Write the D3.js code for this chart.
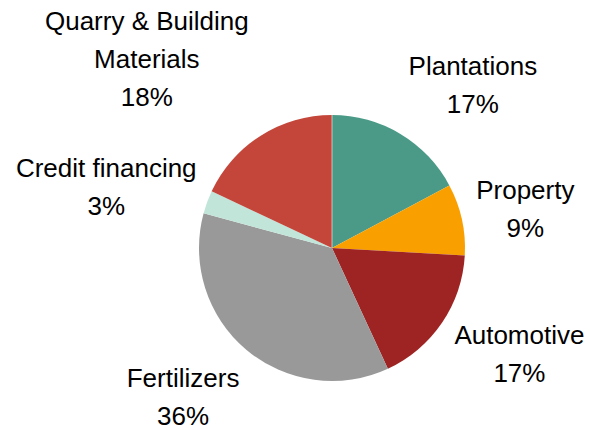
<html>
<head>
<meta charset="utf-8">
<title>Segment pie</title>
<style>
  body { margin: 0; background: #fff; }
  text { font-family: "Liberation Sans", Arial, sans-serif; fill: #000; }
</style>
</head>
<body>
<script src="https://cdn.jsdelivr.net/npm/d3@7"></script>
<script>

// data
var segments = ["Plantations", "Property", "Automotive", "Fertilizers", "Credit financing", "Quarry & Building Materials"];
var shares   = [17.2, 8.7, 17.2, 36.1, 2.8, 18.0];
var labelLines = [["Plantations"], ["Property"], ["Automotive"], ["Fertilizers"], ["Credit financing"], ["Quarry & Building", "Materials"]];
var colors   = ["#4a9a87", "#f9a000", "#9e2424", "#999999", "#c2e5da", "#c4463a"];

var width  = 590;
var height = 430;
var cx = 332, cy = 248, radius = 133;

var svg = d3.select("body")
			.append("svg")
			.attr("width", width)
			.attr("height", height);

var g = svg.append("g")
			.attr("transform", "translate(" + cx + "," + cy + ")");

var pie = d3.pie().sort(null).value(function(d) { return d; });
var arcs = pie(shares);

var arc = d3.arc().innerRadius(0).outerRadius(radius);
var labelArc = d3.arc().innerRadius(200).outerRadius(200);

g.selectAll("path.slice")
	.data(arcs)
	.enter()
	.append("path")
	.attr("class", "slice")
	.attr("d", arc)
	.attr("fill", function(d, i) { return colors[i]; });

// thin light seam at 12 o'clock, like the original
g.append("line")
	.attr("x1", 0).attr("y1", 0)
	.attr("x2", 0).attr("y2", -radius)
	.attr("stroke", "#ffffff")
	.attr("stroke-width", 0.8)
	.attr("stroke-opacity", 0.7);

// manual label nudges (labels were hand placed in the original)
var nudge = [[38, 37], [-2, 32], [22, 22], [-20, 24], [-38, 36], [-78, 27]];
var lineH = 38;

var labels = g.selectAll("g.label")
	.data(arcs)
	.enter()
	.append("g")
	.attr("class", "label")
	.attr("transform", function(d, i) {
		var c = labelArc.centroid(d);
		return "translate(" + (c[0] + nudge[i][0]) + "," + (c[1] + nudge[i][1]) + ")";
	});

labels.each(function(d, i) {
	var sel = d3.select(this);
	var lines = labelLines[i].concat([Math.round(shares[i]) + "%"]);
	var n = lines.length;
	lines.forEach(function(t, k) {
		sel.append("text")
			.attr("x", 0)
			.attr("y", (k - (n - 1)) * lineH)
			.attr("text-anchor", "middle")
			.attr("font-size", "26px")
			.text(t);
	});
});

</script>
</body>
</html>
